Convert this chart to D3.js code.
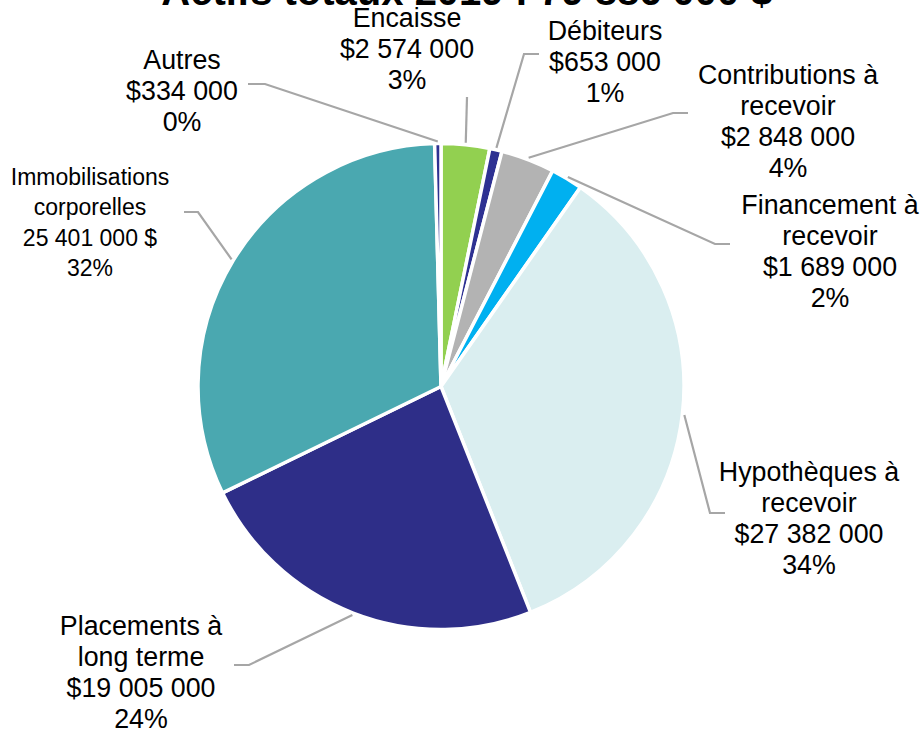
<!DOCTYPE html>
<html><head><meta charset="utf-8">
<script src="https://cdn.jsdelivr.net/npm/d3@7"></script>
<style>html,body{margin:0;padding:0;background:#fff;overflow:hidden}</style>
</head><body>
<svg id="chart" width="921" height="729"></svg>
<script>
// ---- data ----
const categories = ["Encaisse","Débiteurs","Contributions à recevoir","Financement à recevoir","Hypothèques à recevoir","Placements à long terme","Immobilisations corporelles","Autres"];
const nameLines = [["Encaisse"],["Débiteurs"],["Contributions à","recevoir"],["Financement à","recevoir"],["Hypothèques à","recevoir"],["Placements à","long terme"],["Immobilisations","corporelles"],["Autres"]];
const values = [2574000, 653000, 2848000, 1689000, 27382000, 19005000, 25401000, 334000];
const amountLabels = ["$2 574 000","$653 000","$2 848 000","$1 689 000","$27 382 000","$19 005 000","25 401 000 $","$334 000"];
const colors = ["#92D050","#2E3192","#B3B3B3","#00B0F0","#DAEEF0","#2E2E88","#4AA8B0","#2E3192"];
const title = "Actifs totaux 2019 : 79 886 000 $";

// ---- layout ----
const cx = 441, cy = 386.5, R = 243;
const labelLayout = [
  {x:407, y:27,  fs:26.8, pts:[[467,97]]},
  {x:605, y:40,  fs:26.8, pts:[[524,54],[539,54]]},
  {x:788, y:84,  fs:26.8, pts:[[673,113],[688,113]]},
  {x:830, y:214, fs:26.8, pts:[[715,244],[730,244]]},
  {x:809, y:481, fs:26.8, pts:[[710,513],[725,513]]},
  {x:141, y:635, fs:26.8, pts:[[249,665],[234,665]]},
  {x:90,  y:185, fs:23, pts:[[198,212],[184,212]]},
  {x:182, y:69,  fs:26.8, pts:[[265,84],[248,84]]}
];

const svg = d3.select("#chart");
const total = d3.sum(values);
const data = categories.map((c,i)=>({name:c, value:values[i], i}));

const pie = d3.pie().value(d=>d.value).sort(null).startAngle(0).endAngle(2*Math.PI);
const arcs = pie(data);
const arc = d3.arc().innerRadius(0).outerRadius(R);
const edgeArc = d3.arc().innerRadius(R+2).outerRadius(R+2);

const g = svg.append("g").attr("transform",`translate(${cx},${cy})`);
g.selectAll("path.slice").data(arcs).join("path")
  .attr("class","slice")
  .attr("d",arc)
  .attr("fill",d=>colors[d.data.i])
  .attr("stroke","#fff").attr("stroke-width",3.5).attr("stroke-linejoin","miter");

// leader lines
const line = d3.line();
arcs.forEach(a=>{
  const L = labelLayout[a.data.i];
  const c = edgeArc.centroid(a);
  const p0 = [cx+c[0], cy+c[1]];
  const pts = [p0].concat(L.pts);
  svg.append("path").attr("d",line(pts)).attr("fill","none")
    .attr("stroke","#A6A6A6").attr("stroke-width",2.2);
});

// labels
const pctFmt = v => Math.round(v/total*100) + "%";
arcs.forEach(a=>{
  const i = a.data.i, L = labelLayout[i];
  const lines = nameLines[i].concat([amountLabels[i], pctFmt(values[i])]);
  const lh = L.fs >= 26 ? 31 : 30.3;
  const t = svg.append("text").attr("text-anchor","middle")
    .attr("font-family","'Liberation Sans', Arial, sans-serif")
    .attr("font-size",L.fs).attr("fill","#000");
  lines.forEach((s,k)=>{
    t.append("tspan").attr("x",L.x).attr("y",L.y + k*lh).text(s);
  });
});

// title (mostly clipped at the top)
svg.append("text").attr("x",467).attr("y",5).attr("text-anchor","middle")
  .attr("font-family","'Liberation Sans', Arial, sans-serif")
  .attr("font-weight","bold").attr("font-size",40).attr("fill","#000")
  .text(title);
</script>
</body></html>
